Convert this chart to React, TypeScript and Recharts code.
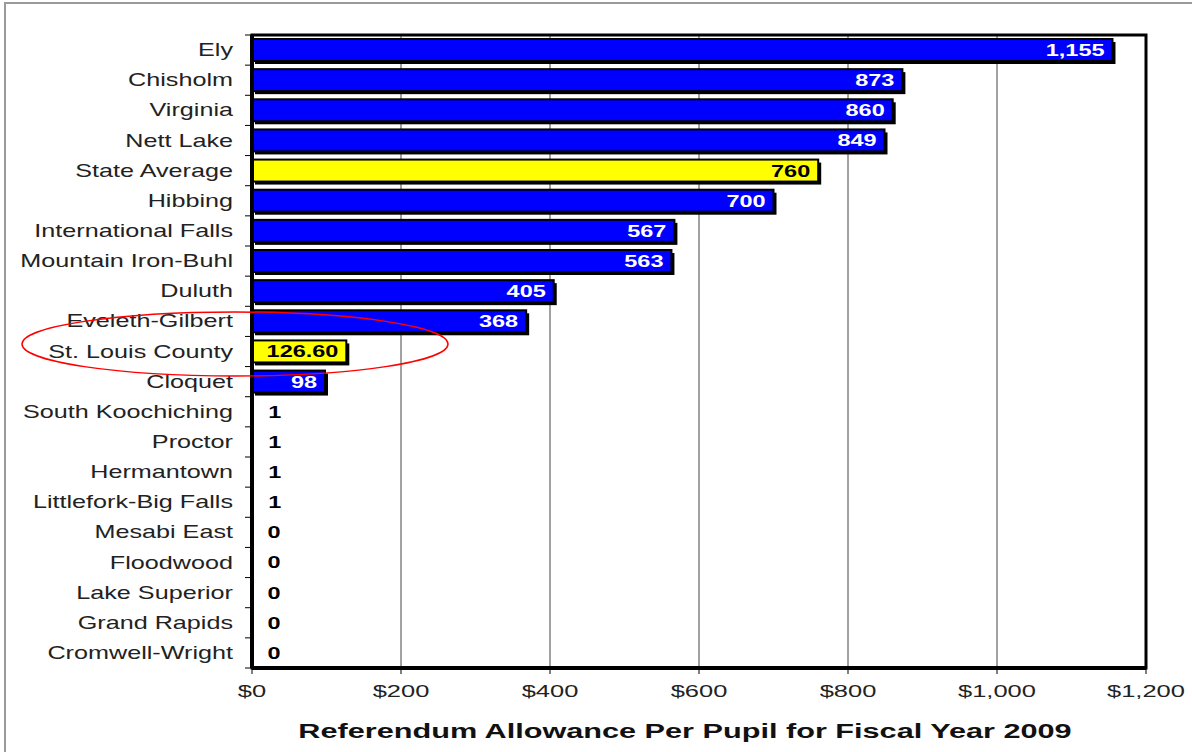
import React from 'react';
import {
  BarChart,
  Bar,
  XAxis,
  YAxis,
  CartesianGrid,
  Cell,
  LabelList,
  ReferenceArea,
} from 'recharts';

const districts = [
  'Ely',
  'Chisholm',
  'Virginia',
  'Nett Lake',
  'State Average',
  'Hibbing',
  'International Falls',
  'Mountain Iron-Buhl',
  'Duluth',
  'Eveleth-Gilbert',
  'St. Louis County',
  'Cloquet',
  'South Koochiching',
  'Proctor',
  'Hermantown',
  'Littlefork-Big Falls',
  'Mesabi East',
  'Floodwood',
  'Lake Superior',
  'Grand Rapids',
  'Cromwell-Wright',
];

const allowance = [1155, 873, 860, 849, 760, 700, 567, 563, 405, 368, 126.6, 98, 1, 1, 1, 1, 0, 0, 0, 0, 0];

const valueLabels = ['1,155', '873', '860', '849', '760', '700', '567', '563', '405', '368', '126.60', '98', '1', '1', '1', '1', '0', '0', '0', '0', '0'];

const highlighted = ['State Average', 'St. Louis County'];

const xTicks = [0, 200, 400, 600, 800, 1000, 1200];

const axisTitle = 'Referendum Allowance Per Pupil for Fiscal Year 2009';

const data = districts.map((name, i) => ({
  name,
  value: allowance[i],
  label: valueLabels[i],
}));

const W = 1192;
const H = 752;
const TOP = 35;
const RIGHT = 46;
const AXIS_W = 252;
const AXIS_H = 84;
const band = (H - TOP - AXIS_H) / districts.length;
const FONT = '"Liberation Sans", Arial, sans-serif';

// the source image is stretched sideways, so text is widened with scaleX
const Stretch = ({ x, y, anchor = 'start', sx = 1.4, size = 18, bold = false, fill = '#222', children }: any) => (
  <text
    transform={`translate(${x},${y}) scale(${sx},1)`}
    textAnchor={anchor}
    fontFamily={FONT}
    fontSize={size}
    fontWeight={bold ? 'bold' : 'normal'}
    fill={fill}
  >
    {children}
  </text>
);

const BarShape = (props: any) => {
  const { x, y, width, height, fill } = props;
  if (!width || width < 2) return null;
  return (
    <g>
      <rect x={x + 3} y={y + 3} width={width} height={height} fill="#000" />
      <rect x={x} y={y} width={width} height={height} fill={fill} stroke="#000" strokeWidth={2} />
    </g>
  );
};

const ValueLabel = (props: any) => {
  const { x, y, width, height, value, index } = props;
  const name = districts[index];
  const cy = y + height / 2 + 6;
  if (width > 40) {
    return (
      <Stretch x={x + width - 8} y={cy} anchor="end" size={17} sx={1.38} bold fill={highlighted.includes(name) ? '#000' : '#fff'}>
        {value}
      </Stretch>
    );
  }
  return (
    <Stretch x={x + width + 22} y={cy} anchor="middle" size={17} sx={1.38} bold fill="#000">
      {value}
    </Stretch>
  );
};

const CategoryTick = (props: any) => {
  const { y, payload, index } = props;
  return (
    <g>
      <line x1={AXIS_W - 7} x2={AXIS_W} y1={y - band / 2} y2={y - band / 2} stroke="#000" strokeWidth={1} />
      {index === districts.length - 1 && (
        <line x1={AXIS_W - 7} x2={AXIS_W} y1={y + band / 2} y2={y + band / 2} stroke="#000" strokeWidth={1} />
      )}
      <Stretch x={AXIS_W - 19} y={y + 6} anchor="end" size={18} sx={1.4}>
        {payload.value}
      </Stretch>
    </g>
  );
};

const ValueTick = (props: any) => {
  const { x, y, payload } = props;
  return (
    <Stretch x={x} y={y + 17} anchor="middle" size={17} sx={1.5}>
      {'$' + payload.value.toLocaleString('en-US')}
    </Stretch>
  );
};

const TitleLabel = (props: any) => {
  const { viewBox } = props;
  const cx = viewBox.x + viewBox.width / 2 - 14;
  return (
    <Stretch x={cx} y={viewBox.y + 70} anchor="middle" size={21} sx={1.46} bold fill="#111">
      {axisTitle}
    </Stretch>
  );
};

export default function App() {
  return (
    <div style={{ position: 'absolute', left: 0, top: 0, width: W, height: H, background: '#fff', overflow: 'hidden' }}>
      <div
        style={{
          position: 'absolute',
          left: 4,
          top: 2,
          width: W,
          height: H,
          borderTop: '2px solid #9a9a9a',
          borderLeft: '2px solid #9a9a9a',
        }}
      />
      <BarChart
        width={W}
        height={H}
        data={data}
        layout="vertical"
        margin={{ top: TOP, right: RIGHT, bottom: 0, left: 0 }}
        barSize={22}
        style={{ position: 'absolute', left: 0, top: 0 }}
      >
        <CartesianGrid horizontal={false} stroke="#444" strokeWidth={1} />
        <XAxis
          type="number"
          domain={[0, 1200]}
          ticks={xTicks}
          height={AXIS_H}
          tick={<ValueTick />}
          tickSize={6}
          tickMargin={6}
          axisLine={{ stroke: '#000', strokeWidth: 4 }}
          tickLine={{ stroke: '#000' }}
          label={<TitleLabel />}
        />
        <YAxis
          type="category"
          dataKey="name"
          width={AXIS_W}
          tickLine={false}
          interval={0}
          tick={<CategoryTick />}
          axisLine={{ stroke: '#000', strokeWidth: 4 }}
        />
        <ReferenceArea x1={0} x2={1200} fill="none" stroke="#000" strokeWidth={3} ifOverflow="visible" />
        <Bar dataKey="value" shape={<BarShape />} isAnimationActive={false}>
          {data.map((d) => (
            <Cell key={d.name} fill={highlighted.includes(d.name) ? '#ffff00' : '#0000ff'} />
          ))}
          <LabelList dataKey="label" content={<ValueLabel />} />
        </Bar>
      </BarChart>
      <svg width={W} height={H} style={{ position: 'absolute', left: 0, top: 0, pointerEvents: 'none' }}>
        <ellipse cx={235} cy={344} rx={213} ry={32} fill="none" stroke="#ff0000" strokeWidth={1.5} />
      </svg>
    </div>
  );
}
